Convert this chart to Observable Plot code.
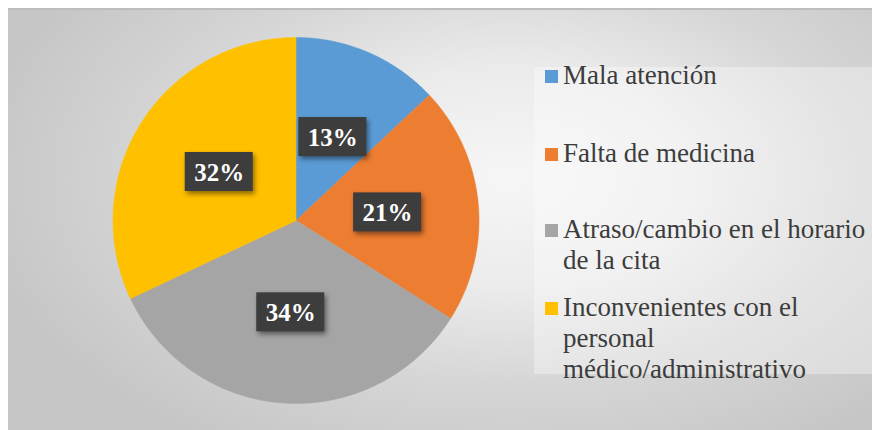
<!DOCTYPE html>
<html>
<head>
<meta charset="utf-8">
<script src="https://cdn.jsdelivr.net/npm/d3@7"></script>
<script src="https://cdn.jsdelivr.net/npm/@observablehq/plot@0.6"></script>
<style>
  html, body { margin: 0; padding: 0; background: #ffffff; }
  #wrap { position: relative; width: 872px; height: 430px; overflow: hidden; font-family: 'Times New Roman', Times, 'Liberation Serif', Tinos, 'Noto Serif', 'DejaVu Serif', 'Noto Serif CJK SC', serif; }
  #frame { position: absolute; left: 8px; top: 8px; width: 864px; height: 422px;
    background: radial-gradient(ellipse 62% 75% at 58% 40%, #f6f6f6 0%, #ebebeb 35%, #d6d6d6 65%, #c6c6c6 100%);
    border-top: 2px solid #bdbdbd; box-sizing: border-box; }
  #legendbox { position: absolute; left: 534px; top: 67px; width: 338px; height: 307px; background: rgba(255,255,255,0.33); }
  #chart { position: absolute; left: 0; top: 0; }
  #chart svg { background: transparent; overflow: visible; }
  #chart g[aria-label="rect"] { filter: drop-shadow(2px 3px 2.5px rgba(0,0,0,0.45)); }
  .entry { position: absolute; left: 563px; width: 312px; font-size: 27px; line-height: 31px; color: #3c3c3c; }
  .swatch { position: absolute; left: -18px; top: 9.6px; width: 13px; height: 13px; }
</style>
</head>
<body>
<div id="wrap">
  <div id="frame"></div>
  <div id="legendbox"></div>
  <div id="chart"></div>
</div>
<script>
// ---- data ----
const categories = ["Mala atención", "Falta de medicina", "Atraso/cambio en el horario de la cita", "Inconvenientes con el personal médico/administrativo"];
const values = [13, 21, 34, 32];
const colors = ["#5B9BD5", "#ED7D31", "#A5A5A5", "#FFC000"];
const legendTops = [60.4, 138.4, 214.4, 292.4];

const SERIF = "'Times New Roman', Times, 'Liberation Serif', Tinos, 'Noto Serif', 'DejaVu Serif', 'Noto Serif CJK SC', serif";

// ---- geometry (unit circle; scale chosen so radius = 183px) ----
const W = 872, H = 430, R = 183, CX = 296, CY = 220.5;
const total = d3.sum(values);
const cum = d3.cumsum(values);
const slices = values.map((v, i) => ({
  cat: categories[i], value: v,
  a0: (cum[i] - v) / total * 2 * Math.PI,
  a1: cum[i] / total * 2 * Math.PI
}));

// outline points of each wedge, derived from the values
const arcPts = [];
for (const s of slices) {
  const n = Math.max(2, Math.ceil((s.a1 - s.a0) / (Math.PI / 360)));
  for (let k = 0; k <= n; k++) {
    const a = s.a0 + (s.a1 - s.a0) * k / n;
    arcPts.push({cat: s.cat, x: Math.sin(a), y: Math.cos(a), cx: 0, cy: 0});
  }
}

// label anchors at half the radius along the bisector
const LD = 0.5, BW = 34 / R, BH = 19.5 / R;
const labels = slices.map(s => {
  const m = (s.a0 + s.a1) / 2;
  const x = LD * Math.sin(m), y = LD * Math.cos(m);
  return {cat: s.cat, x, y, x1: x - BW, x2: x + BW, y1: y - BH, y2: y + BH, text: d3.format(".0%")(s.value / total)};
});

const plot = Plot.plot({
  width: W, height: H,
  marginTop: 0, marginRight: 0, marginBottom: 0, marginLeft: 0,
  x: {domain: [-CX / R, (W - CX) / R], axis: null},
  y: {domain: [-(H - CY) / R, CY / R], axis: null},
  color: {domain: categories, range: colors, type: "ordinal"},
  style: {background: "transparent", fontFamily: SERIF},
  marks: [
    Plot.area(arcPts, {x1: "x", y1: "y", x2: "cx", y2: "cy", z: "cat", fill: "cat", stroke: "cat", strokeWidth: 0.5}),
    Plot.rect(labels, {x1: "x1", x2: "x2", y1: "y1", y2: "y2", fill: "#3d3d3d"}),
    Plot.text(labels, {x: "x", y: "y", text: "text", fill: "white", fontSize: 25, fontWeight: "bold",
      fontFamily: SERIF, dy: 1})
  ]
});
document.getElementById("chart").appendChild(plot);

// legend (HTML)
const wrap = document.getElementById("wrap");
categories.forEach((c, i) => {
  const e = document.createElement("div");
  e.className = "entry";
  e.style.top = legendTops[i] + "px";
  e.style.fontFamily = SERIF;
  const sw = document.createElement("span");
  sw.className = "swatch";
  sw.style.background = colors[i];
  e.appendChild(sw);
  e.appendChild(document.createTextNode(c));
  wrap.appendChild(e);
});
</script>
</body>
</html>
